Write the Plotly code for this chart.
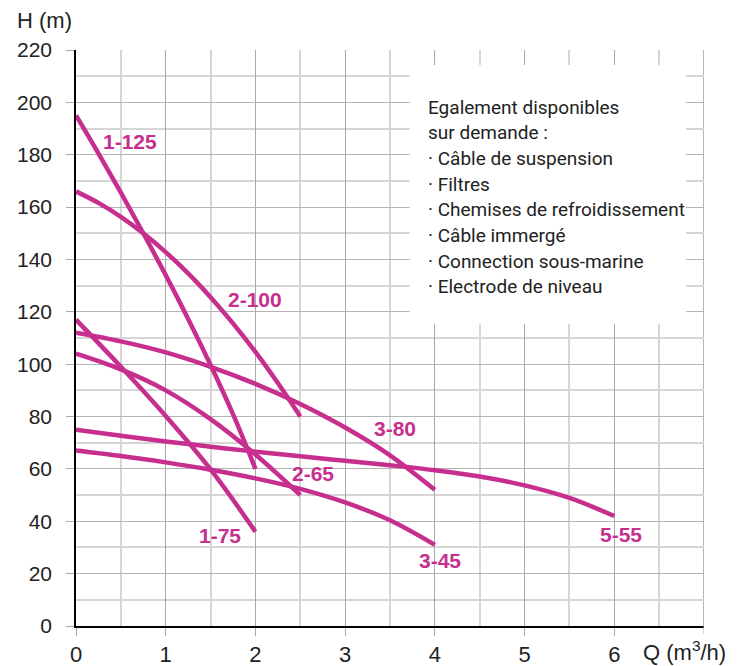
import numpy as np
import plotly.graph_objects as go

# ---- data ----
q_1_125 = [0, 0.25, 0.5, 0.75, 1.0, 1.25, 1.5, 1.75, 2.0]
h_1_125 = [195, 180.5, 165.5, 150, 134, 117.3, 99.7, 80.9, 60]

q_2_100 = [0, 0.25, 0.5, 0.75, 1.0, 1.25, 1.5, 1.75, 2.0, 2.25, 2.5]
h_2_100 = [166, 161.6, 156.3, 150, 142.8, 134.7, 125.6, 115.6, 104.7, 92.8, 80]

q_3_80 = [0, 0.5, 1.0, 1.5, 2.0, 2.5, 3.0, 3.5, 4.0]
h_3_80 = [112, 108.7, 104.5, 99, 92.5, 84.8, 75.8, 65.2, 52]

q_2_65 = [0, 0.5, 1.0, 1.5, 2.0, 2.5]
h_2_65 = [104, 98, 90, 79, 65.5, 50]

q_1_75 = [0, 0.5, 1.0, 1.5, 2.0]
h_1_75 = [117, 99, 80.2, 59.8, 36]

q_5_55 = [0, 0.5, 1.0, 1.5, 2.0, 2.5, 3.0, 3.5, 4.0, 4.5, 5.0, 5.5, 6.0]
h_5_55 = [75, 72.7, 70.5, 68.5, 66.6, 64.8, 63.1, 61.4, 59.5, 57.1, 53.7, 48.9, 42]

q_3_45 = [0, 0.5, 1.0, 1.5, 2.0, 2.5, 3.0, 3.5, 4.0]
h_3_45 = [67, 64.9, 62.5, 59.7, 56.4, 52.4, 47.2, 40.4, 31]

series_names = ["1-125", "2-100", "3-80", "2-65", "1-75", "5-55", "3-45"]
series_q = [q_1_125, q_2_100, q_3_80, q_2_65, q_1_75, q_5_55, q_3_45]
series_h = [h_1_125, h_2_100, h_3_80, h_2_65, h_1_75, h_5_55, h_3_45]

# label anchor points (Q, H) for the curve names
label_q = [0.60, 2.0, 3.56, 2.64, 1.61, 6.07, 4.06]
label_h = [184.9, 124.7, 75.6, 58.4, 34.6, 34.8, 25.0]

x_tick_vals = [0, 1, 2, 3, 4, 5, 6]
x_tick_text = ["0", "1", "2", "3", "4", "5", "6"]
y_tick_vals = list(range(0, 221, 20))

info_lines = [
    "Egalement disponibles",
    "sur demande :",
    "· Câble de suspension",
    "· Filtres",
    "· Chemises de refroidissement",
    "· Câble immergé",
    "· Connection sous-marine",
    "· Electrode de niveau",
]

MAGENTA = "#C72F8E"
TEXT = "#222222"

fig = go.Figure()
for name, qs, hs in zip(series_names, series_q, series_h):
    fig.add_trace(go.Scatter(
        x=qs, y=hs, mode="lines", name=name,
        line=dict(color=MAGENTA, width=4.5, shape="spline", smoothing=1.0),
        showlegend=False, hoverinfo="skip",
    ))

for name, lq, lh in zip(series_names, label_q, label_h):
    fig.add_annotation(x=lq, y=lh, xref="x", yref="y", text=f"<b>{name}</b>",
                       showarrow=False,
                       font=dict(family="Liberation Sans, Arial", size=21, color=MAGENTA))

# white info box covering the grid
fig.add_shape(type="rect", xref="x", yref="y", x0=3.72, x1=6.80, y0=115.4, y1=214.3,
              fillcolor="white", line=dict(width=0), layer="between")

# plot area in pixels: x 76..704, y 50..626
W, H = 749, 666
L, R, T, B = 76, 45, 50, 40
pw, ph = W - L - R, H - T - B

# right border grid line and last tick (x = 7, unlabeled)
fig.add_shape(type="line", xref="x", yref="paper", x0=7, x1=7, y0=0, y1=1,
              line=dict(color="#888888", width=1.2), layer="between")
fig.add_shape(type="line", xref="x", yref="paper", x0=7, x1=7, y0=0, y1=-8 / ph,
              line=dict(color="#aaaaaa", width=1))

for i, line in enumerate(info_lines):
    py = 107 + 25.7 * i
    fig.add_annotation(
        x=(426 - L) / pw, y=(H - B - py) / ph, xref="paper", yref="paper",
        xanchor="left", yanchor="middle", text=line, showarrow=False,
        font=dict(family="Roboto", size=19, color=TEXT),
    )

fig.add_annotation(x=(15 - L) / pw, y=(H - B - 21) / ph, xref="paper", yref="paper",
                   xanchor="left", yanchor="middle", text="H (m)", showarrow=False,
                   font=dict(family="Liberation Sans, Arial", size=22, color=TEXT))
fig.add_annotation(x=(641 - L) / pw, y=(H - B - 651) / ph, xref="paper", yref="paper",
                   xanchor="left", yanchor="middle", text="Q (m<sup>3</sup>/h)",
                   showarrow=False,
                   font=dict(family="Liberation Sans, Arial", size=22, color=TEXT))

fig.update_xaxes(
    range=[0, 7], tickmode="array", tickvals=x_tick_vals, ticktext=x_tick_text,
    showgrid=True, gridcolor="#a8a8a8", gridwidth=1,
    showline=True, linecolor="black", linewidth=1.5,
    ticks="outside", ticklen=8, tickcolor="#aaaaaa",
    tickfont=dict(family="Liberation Sans, Arial", size=22, color=TEXT),
    minor=dict(tickmode="array", tickvals=list(np.arange(0.5, 7, 1.0)),
               showgrid=True, gridcolor="#d6d6d6", gridwidth=1.5, ticks=""),
    zeroline=False, fixedrange=True, automargin=False,
)
fig.update_yaxes(
    range=[0, 220], tickmode="array", tickvals=y_tick_vals,
    showgrid=True, gridcolor="#b4b4b4", gridwidth=1,
    showline=True, linecolor="black", linewidth=1.5,
    ticks="outside", ticklen=8, tickcolor="#aaaaaa",
    ticklabelstandoff=10,
    tickfont=dict(family="Liberation Sans, Arial", size=21, color=TEXT),
    minor=dict(tickmode="array", tickvals=list(range(10, 220, 20)),
               showgrid=True, gridcolor="#d6d6d6", gridwidth=1.5, ticks=""),
    zeroline=False, fixedrange=True, automargin=False,
)

fig.update_layout(
    width=W, height=H, autosize=False,
    margin=dict(l=L, r=R, t=T, b=B, pad=0, autoexpand=False),
    paper_bgcolor="white", plot_bgcolor="white",
    showlegend=False,
)

fig.write_html(
    "out.html",
    config={"responsive": False, "displayModeBar": False},
    post_script="document.body.style.margin='0';document.body.style.padding='0';",
)
